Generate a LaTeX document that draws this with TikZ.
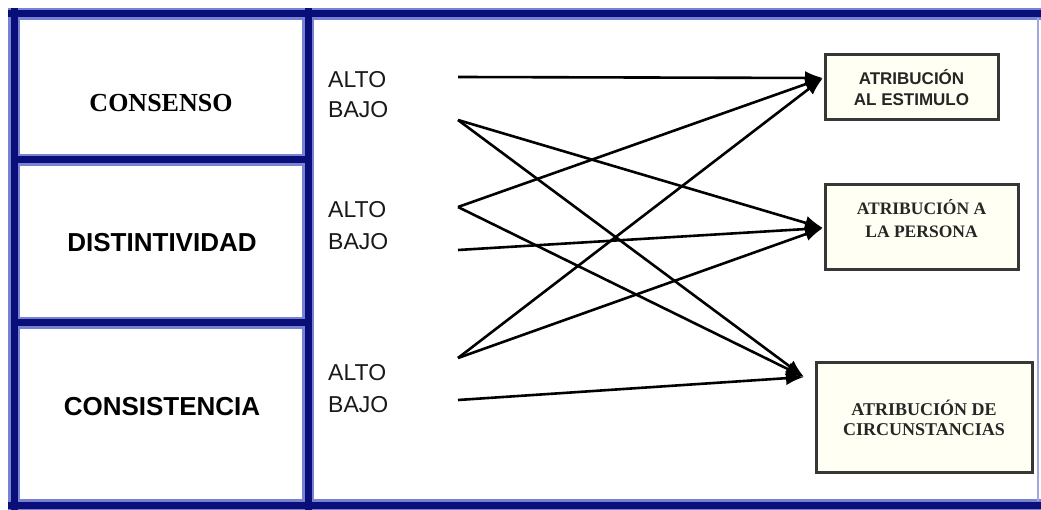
\documentclass[tikz,border=0pt]{standalone}
\usepackage{fontspec}
\setmainfont{Liberation Serif}
\setsansfont{Liberation Sans}
\usetikzlibrary{arrows.meta}
\definecolor{navy}{RGB}{10,14,120}
\definecolor{halo}{RGB}{120,130,210}
\definecolor{cream}{RGB}{255,255,244}
\definecolor{boxline}{RGB}{55,55,55}
\begin{document}
\begin{tikzpicture}[x=1pt,y=-1pt,
  frameh/.style={draw=halo,line width=12pt},
  framec/.style={draw=navy,line width=7pt},
  catsans/.style={font=\fontsize{26}{30}\selectfont\sffamily\bfseries,text=black},
  catserif/.style={font=\fontsize{26}{30}\selectfont\rmfamily\bfseries,text=black},
  lvl/.style={font=\fontsize{23}{26}\selectfont\sffamily,anchor=west,inner sep=0pt,text=black!90},
  resbox/.style={draw=boxline,line width=3pt,fill=cream,inner sep=0pt},
  restext/.style={align=center,inner sep=0pt,text=black!85},
  arr/.style={line width=2.6pt,-{Latex[length=18pt,width=14pt]}}
]
\useasboundingbox (0,0) rectangle (1041,510);
\fill[white] (0,0) rectangle (1041,510);

% frame
\foreach \s in {frameh,framec}{
  \draw[\s] (8,14) -- (1041,14);
  \draw[\s] (8,505) -- (1041,505);
  \draw[\s] (14,8) -- (14,510);
  \draw[\s] (308,8) -- (308,510);
  \draw[\s] (14,160) -- (308,160);
  \draw[\s] (14,323) -- (308,323);
}
\draw[halo!70,line width=2pt] (1038,18) -- (1038,501);

% categories
\node[catserif] (cons) at (161,103) {CONSENSO};
\node[catsans] (dist) at (162,243) {DISTINTIVIDAD};
\node[catsans] (cist) at (162,407) {CONSISTENCIA};

% levels
\node[lvl] (alto1) at (328,80) {ALTO};
\node[lvl] (bajo1) at (328,110) {BAJO};
\node[lvl] (alto2) at (328,210) {ALTO};
\node[lvl] (bajo2) at (328,242) {BAJO};
\node[lvl] (alto3) at (328,373) {ALTO};
\node[lvl] (bajo3) at (328,405) {BAJO};

% result boxes
\node[resbox,minimum width=173pt,minimum height=65pt] (estb) at (911.5,87.5) {};
\node[restext,font=\fontsize{17}{21}\selectfont\sffamily\bfseries] (estt) at (911.5,87.5) {ATRIBUCIÓN\\AL ESTIMULO};
\node[resbox,minimum width=193pt,minimum height=85pt] (perb) at (921.5,227.5) {};
\node[restext,font=\fontsize{17.5}{23}\selectfont\rmfamily\bfseries] (pert) at (921.5,218.5) {ATRIBUCIÓN A\\LA PERSONA};
\node[resbox,minimum width=216pt,minimum height=109pt] (cirb) at (924,417.5) {};
\node[restext,font=\fontsize{18}{20}\selectfont\rmfamily\bfseries] (cirt) at (924,418) {ATRIBUCIÓN DE\\CIRCUNSTANCIAS};

% start and tip points
\coordinate (sa1) at (458,77);
\coordinate (sb1) at (458,120);
\coordinate (sa2) at (458,207);
\coordinate (sb2) at (458,250);
\coordinate (sa3) at (458,358);
\coordinate (sb3) at (458,400);
\coordinate (t1) at (823,78);
\coordinate (t2) at (823,228);
\coordinate (t3) at (804,377);

\draw[arr] (sa1) -- (t1);
\draw[arr] (sb1) -- (t2);
\draw[arr] (sb1) -- (t3);
\draw[arr] (sa2) -- (t1);
\draw[arr] (sa2) -- (t3);
\draw[arr] (sb2) -- (t2);
\draw[arr] (sa3) -- (t1);
\draw[arr] (sa3) -- (t2);
\draw[arr] (sb3) -- (t3);
\end{tikzpicture}
\end{document}
